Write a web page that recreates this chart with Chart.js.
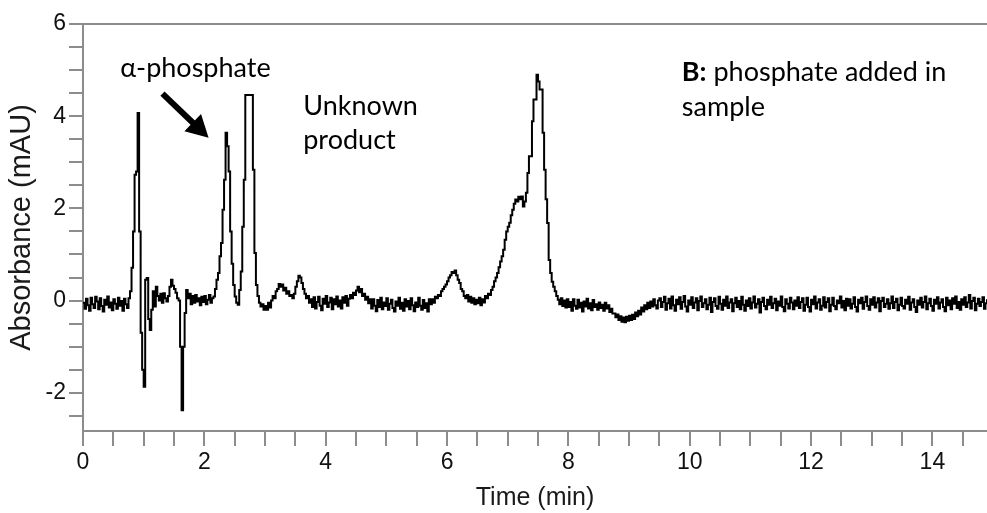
<!DOCTYPE html>
<html>
<head>
<meta charset="utf-8">
<script src="https://cdn.jsdelivr.net/npm/chart.js@4/dist/chart.umd.min.js"></script>
<style>
html,body{margin:0;padding:0;background:#ffffff;}
#wrap{width:987px;height:513px;position:relative;}
</style>
</head>
<body>
<div id="wrap"><canvas id="c" width="987" height="513"></canvas></div>
<script>
// Detector sampling interval (min) and absorbance readings (mAU)
const sampleIntervalMin = 0.025;
const absorbance = [
  // 0.000 - 0.775
  -0.05,-0.18,0.04,-0.1,-0.22,0.06,-0.08,-0.16,0.08,-0.02,
  -0.19,0.05,-0.12,-0.24,0.02,-0.09,0.09,-0.15,-0.04,-0.21,
  0.03,-0.07,-0.18,0.06,-0.11,-0.01,-0.22,0.04,-0.08,-0.16,
  0.05,0.2,
  // 0.800 - 1.725
  0.71,1.5,2.73,2.8,4.07,1.5,-0.7,-1.5,-1.87,0.45,
  0.49,-0.4,-0.64,-0.2,0.2,-0.13,0.3,0.1,0.0,0.15,
  -0.05,0.16,0.05,-0.02,0.1,0.3,0.45,0.32,0.25,0.17,
  0.05,0.0,-1.0,-2.38,-1.0,-0.27,0.23,0.05,
  // 1.750 - 2.125
  0.15,-0.08,0.1,-0.05,0.12,-0.02,0.05,-0.1,0.08,-0.03,
  0.1,-0.08,0.02,0.12,-0.05,0.05,
  // 2.150 - 2.975
  0.09,0.25,0.45,0.6,0.96,1.25,1.97,2.62,3.64,3.35,
  2.8,1.5,0.8,0.34,0.09,-0.05,-0.09,0.23,0.63,1.6,
  2.62,4.46,4.46,4.46,4.46,4.46,2.84,1.03,0.34,0.1,
  -0.05,-0.13,-0.08,-0.2,
  // 3.000 - 3.725
  -0.12,-0.2,-0.05,-0.15,0.0,0.1,0.05,0.2,0.25,0.36,
  0.3,0.35,0.22,0.28,0.15,0.2,0.1,0.12,0.05,0.15,
  0.3,0.42,0.54,0.5,0.38,0.25,0.15,0.05,0.1,-0.05,
  // 3.750 - 4.475
  0.03,-0.14,0.07,-0.17,-0.03,0.08,-0.11,-0.21,0.04,-0.07,
  0.1,-0.14,-0.04,0.06,-0.19,0.03,-0.08,0.09,-0.13,0.0,
  -0.17,0.07,-0.05,0.1,-0.11,0.04,0.12,0.05,0.17,0.12,
  // 4.500 - 4.725
  0.22,0.3,0.18,0.25,0.1,0.15,0.02,0.08,-0.06,0.03,
  // 4.750 - 5.725
  -0.17,0.03,-0.11,-0.23,0.01,-0.14,0.06,-0.19,-0.04,-0.12,
  0.05,-0.2,-0.07,0.02,-0.16,-0.24,-0.02,-0.11,0.06,-0.18,
  -0.05,-0.22,0.03,-0.13,-0.01,-0.19,0.05,-0.1,-0.23,-0.04,
  -0.14,0.06,-0.11,-0.2,0.01,-0.16,-0.06,-0.24,0.03,-0.08,
  // 5.750 - 9.475
  0.03,-0.05,0.08,0.05,0.12,0.1,0.2,0.25,0.3,0.35,
  0.42,0.5,0.55,0.62,0.6,0.65,0.55,0.45,0.38,0.25,
  0.2,0.1,0.05,0.12,-0.02,0.08,-0.05,0.05,-0.08,0.02,
  -0.06,0.06,-0.1,0.03,-0.04,0.1,0.05,0.15,0.12,0.23,
  0.3,0.42,0.5,0.6,0.72,0.85,0.96,1.1,1.32,1.5,
  1.6,1.69,1.85,1.97,2.1,2.19,2.15,2.25,2.2,2.26,
  2.04,2.15,2.34,2.77,3.13,3.13,3.89,4.36,4.36,4.9,
  4.75,4.58,4.58,3.64,2.84,2.2,1.68,0.88,0.6,0.41,
  0.3,0.2,0.1,0.02,-0.08,0.05,-0.12,0.0,-0.15,0.03,
  -0.14,-0.03,-0.22,0.03,-0.11,-0.18,0.02,-0.15,-0.05,-0.24,
  -0.02,-0.13,0.04,-0.17,-0.06,-0.21,0.01,-0.14,-0.08,-0.2,
  -0.04,-0.16,-0.09,-0.22,-0.05,-0.17,-0.1,-0.25,-0.18,-0.28,
  -0.28,-0.36,-0.3,-0.42,-0.34,-0.46,-0.37,-0.47,-0.35,-0.44,
  -0.33,-0.42,-0.31,-0.4,-0.26,-0.34,-0.22,-0.3,-0.15,-0.24,
  -0.1,-0.19,-0.05,-0.16,-0.02,-0.13,0.03,-0.1,-0.17,0.0,
  // 9.500 - 14.925
  0.05,-0.14,-0.03,0.08,-0.2,-0.06,0.04,-0.17,0.09,-0.1,
  -0.22,0.02,-0.08,0.07,-0.18,-0.03,0.1,-0.13,-0.24,0.0,
  -0.09,0.07,-0.16,-0.04,0.05,-0.21,-0.01,0.09,-0.14,-0.06,
  0.03,-0.19,-0.09,0.06,-0.25,-0.03,0.05,-0.12,-0.18,0.08,
  -0.07,-0.2,0.02,-0.11,0.09,-0.16,-0.04,0.03,-0.23,-0.06,
  0.06,-0.14,-0.01,-0.19,0.08,-0.09,-0.22,0.0,-0.12,0.05,
  -0.17,-0.04,0.09,-0.15,-0.07,0.03,-0.26,-0.03,0.06,-0.12,
  -0.19,0.02,-0.09,0.08,-0.16,-0.06,0.04,-0.21,-0.02,-0.11,
  0.09,-0.14,-0.23,0.03,-0.07,-0.17,0.06,-0.04,-0.19,0.0,
  -0.11,0.07,-0.16,-0.03,0.05,-0.22,-0.09,0.06,-0.14,-0.24,
  0.02,-0.08,0.09,-0.17,-0.04,0.03,-0.2,-0.11,0.07,-0.15,
  -0.03,0.05,-0.23,-0.09,0.06,-0.12,-0.19,0.0,-0.06,0.09,
  -0.15,-0.01,-0.21,0.04,-0.11,0.03,-0.17,-0.07,0.07,-0.14,
  -0.24,0.02,-0.06,0.06,-0.18,-0.03,0.09,-0.12,-0.2,0.03,
  -0.09,0.07,-0.15,-0.04,0.05,-0.23,-0.01,0.06,-0.14,-0.07,
  0.03,-0.18,-0.06,0.09,-0.16,-0.03,0.04,-0.21,-0.09,0.06,
  -0.12,-0.17,0.02,-0.07,0.08,-0.2,-0.04,0.03,-0.14,-0.25,
  0.0,-0.09,0.06,-0.15,-0.03,0.09,-0.19,-0.06,0.04,-0.12,
  -0.22,0.02,-0.07,0.07,-0.17,-0.04,0.03,-0.14,-0.23,0.06,
  -0.1,0.0,-0.19,0.05,-0.07,0.09,-0.16,-0.03,-0.2,0.03,
  -0.09,0.07,-0.14,-0.04,0.12,-0.17,-0.01,0.06,-0.21,-0.07,
  0.04,-0.12,-0.03,0.07,-0.18,-0.06,0.03,-0.1
];

// Axis ticks
const xTickValues = [0,0.5,1,1.5,2,2.5,3,3.5,4,4.5,5,5.5,6,6.5,7,7.5,8,8.5,9,9.5,10,10.5,11,11.5,12,12.5,13,13.5,14,14.5];
const xTickLabels = ['0','2','4','6','8','10','12','14'];
const yTickValues = [-2.5,-2,-1.5,-1,-0.5,0,0.5,1,1.5,2,2.5,3,3.5,4,4.5,5,5.5,6];
const yTickLabels = ['-2','0','2','4','6'];
const xRange = [0, 14.9];
const yRange = [-2.83, 6];

// Annotations (anchored in data units)
const noteTexts = ['α-phosphate', 'Unknown', 'product', 'phosphate added in', 'sample'];
const noteBold = 'B:';
const noteTimes = [0.615, 3.63, 3.63, 9.87, 9.87];
const noteValues = [4.84, 4.03, 3.28, 4.76, 4.0];
const arrowFrom = [1.31, 4.49];
const arrowTo = [2.07, 3.53];

const points = absorbance.map((v, i) => ({x: +(i * sampleIntervalMin).toFixed(3), y: v}));

const AXIS_GRAY = '#8c8c8c';
const AXIS_FONT = '"Liberation Sans", Arial, sans-serif';
const NOTE_FONT = '"Lato", "Open Sans", sans-serif';
const NOTE_SIZE = 27;

const notesPlugin = {
  id: 'notes',
  afterDatasetsDraw(chart) {
    const {ctx, scales: {x, y}} = chart;
    ctx.save();
    ctx.fillStyle = '#000';
    ctx.textBaseline = 'alphabetic';
    ctx.textAlign = 'left';
    ctx.font = NOTE_SIZE + 'px ' + NOTE_FONT;
    for (let i = 0; i < 3; i++) {
      ctx.fillText(noteTexts[i], x.getPixelForValue(noteTimes[i]), y.getPixelForValue(noteValues[i]));
    }
    const bx = x.getPixelForValue(noteTimes[3]);
    const by = y.getPixelForValue(noteValues[3]);
    ctx.font = 'bold ' + NOTE_SIZE + 'px ' + NOTE_FONT;
    ctx.fillText(noteBold, bx, by);
    const bw = ctx.measureText(noteBold).width;
    ctx.font = NOTE_SIZE + 'px ' + NOTE_FONT;
    const sw = ctx.measureText(' ').width;
    ctx.fillText(noteTexts[3], bx + bw + sw, by);
    ctx.fillText(noteTexts[4], x.getPixelForValue(noteTimes[4]), y.getPixelForValue(noteValues[4]));

    // arrow
    const x0 = x.getPixelForValue(arrowFrom[0]), y0 = y.getPixelForValue(arrowFrom[1]);
    const x1 = x.getPixelForValue(arrowTo[0]), y1 = y.getPixelForValue(arrowTo[1]);
    const ang = Math.atan2(y1 - y0, x1 - x0);
    const headLen = 22, headHalf = 12;
    const bxh = x1 - headLen * Math.cos(ang), byh = y1 - headLen * Math.sin(ang);
    ctx.strokeStyle = '#000';
    ctx.lineWidth = 6;
    ctx.beginPath();
    ctx.moveTo(x0, y0);
    ctx.lineTo(bxh + 2 * Math.cos(ang), byh + 2 * Math.sin(ang));
    ctx.stroke();
    ctx.beginPath();
    ctx.moveTo(x1, y1);
    ctx.lineTo(bxh + headHalf * Math.sin(ang), byh - headHalf * Math.cos(ang));
    ctx.lineTo(bxh - headHalf * Math.sin(ang), byh + headHalf * Math.cos(ang));
    ctx.closePath();
    ctx.fill();
    ctx.restore();
  }
};

new Chart(document.getElementById('c'), {
  type: 'line',
  data: {
    datasets: [{
      data: points,
      borderColor: '#000000',
      borderWidth: 2,
      pointRadius: 0,
      stepped: true,
      fill: false
    }]
  },
  options: {
    responsive: false,
    devicePixelRatio: 1,
    animation: false,
    events: [],
    layout: {padding: {top: 24, right: 0, left: 0, bottom: 0}},
    plugins: {legend: {display: false}, tooltip: {enabled: false}},
    scales: {
      x: {
        type: 'linear',
        min: xRange[0], max: xRange[1],
        afterBuildTicks(s) { s.ticks = xTickValues.map(v => ({value: v})); },
        afterFit(s) { s.height = 82; },
        border: {display: true, color: AXIS_GRAY, width: 2},
        grid: {drawOnChartArea: false, drawTicks: true, tickLength: 15, color: AXIS_GRAY, tickColor: AXIS_GRAY, lineWidth: 2},
        ticks: {
          autoSkip: false, maxRotation: 0, padding: 3, color: '#111',
          font: {family: AXIS_FONT, size: 23},
          callback: v => (xTickLabels.includes(String(v)) ? String(v) : '')
        },
        title: {display: true, text: 'Time (min)', color: '#1a1a1a',
          font: {family: AXIS_FONT, size: 25}, padding: {top: 0, bottom: 0}}
      },
      y: {
        type: 'linear',
        min: yRange[0], max: yRange[1],
        afterBuildTicks(s) { s.ticks = yTickValues.map(v => ({value: v})); },
        afterFit(s) { s.width = 83; },
        border: {display: true, color: AXIS_GRAY, width: 2},
        grid: {
          drawOnChartArea: true, drawTicks: true, tickLength: 14, lineWidth: 2,
          tickColor: AXIS_GRAY,
          color: c => (c.tick && c.tick.value === yRange[1]) ? AXIS_GRAY : 'rgba(0,0,0,0)'
        },
        ticks: {
          autoSkip: false, padding: 3, color: '#111',
          font: {family: AXIS_FONT, size: 23},
          callback: v => (yTickLabels.includes(String(v)) ? String(v) : '')
        },
        title: {display: true, text: 'Absorbance (mAU)', color: '#1a1a1a',
          font: {family: AXIS_FONT, size: 29}, padding: {top: 5, bottom: 0}}
      }
    }
  },
  plugins: [notesPlugin]
});
</script>
</body>
</html>
